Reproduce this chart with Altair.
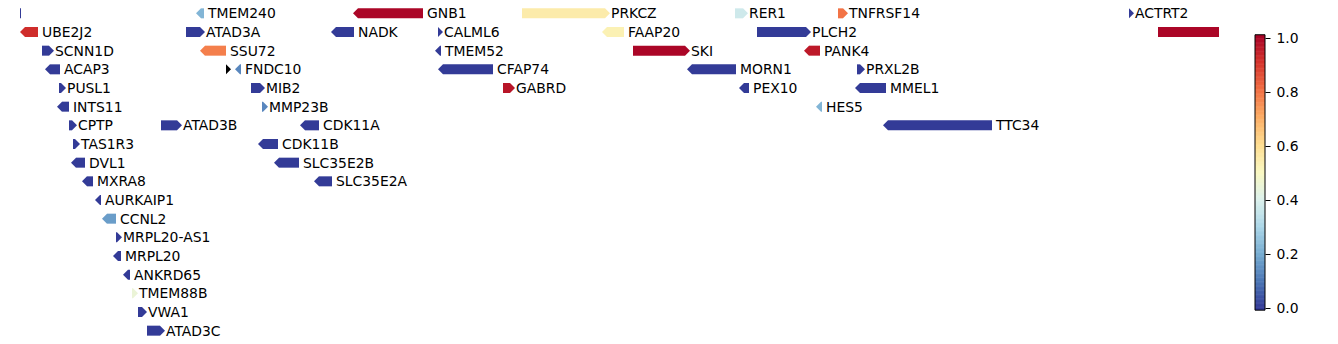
import altair as alt
import pandas as pd

# ---- data (x in track units, 1 unit ~ 1 px) ----
gene_names = ["", "TMEM240", "GNB1", "PRKCZ", "RER1", "TNFRSF14", "ACTRT2",
              "UBE2J2", "ATAD3A", "NADK", "CALML6", "FAAP20", "PLCH2", "",
              "SCNN1D", "SSU72", "TMEM52", "SKI", "PANK4",
              "ACAP3", "", "FNDC10", "CFAP74", "MORN1", "PRXL2B",
              "PUSL1", "MIB2", "GABRD", "PEX10", "MMEL1",
              "INTS11", "MMP23B", "HES5",
              "CPTP", "ATAD3B", "CDK11A", "TTC34",
              "TAS1R3", "CDK11B",
              "DVL1", "SLC35E2B",
              "MXRA8", "SLC35E2A",
              "AURKAIP1", "CCNL2", "MRPL20-AS1", "MRPL20", "ANKRD65",
              "TMEM88B", "VWA1", "ATAD3C"]
gene_rows = [0, 0, 0, 0, 0, 0, 0,
             1, 1, 1, 1, 1, 1, 1,
             2, 2, 2, 2, 2,
             3, 3, 3, 3, 3, 3,
             4, 4, 4, 4, 4,
             5, 5, 5,
             6, 6, 6, 6,
             7, 7,
             8, 8,
             9, 9,
             10, 11, 12, 13, 14,
             15, 16, 17]
gene_starts = [-40, 176, 333, 502, 715, 818, 1109,
               0, 166, 311, 418, 582, 737, 1138,
               22, 180, 415, 613, 784,
               25, 206, 215, 418, 667, 837,
               39, 231, 483, 719, 835,
               37, 242, 796,
               49, 141, 280, 863,
               53, 238,
               51, 254,
               62, 294,
               75, 82, 96, 93, 103,
               112, 118, 127]
gene_ends = [1, 184, 403, 590, 728, 828, 1114,
             18, 185, 334, 423, 604, 791, 1300,
             34, 206, 421, 670, 800,
             40, 211, 221, 473, 716, 845,
             46, 245, 495, 729, 866,
             49, 248, 802,
             57, 162, 299, 972,
             60, 258,
             65, 279,
             73, 312,
             81, 96, 102, 101, 110,
             118, 127, 145]
gene_strands = ["-", "-", "-", "+", "+", "+", "+",
                "-", "+", "-", "+", "-", "+", "+",
                "+", "-", "-", "+", "-",
                "-", "+", "-", "-", "-", "+",
                "+", "+", "+", "-", "-",
                "-", "+", "-",
                "+", "+", "-", "-",
                "+", "-",
                "-", "-",
                "-", "-",
                "-", "-", "+", "-", "-",
                "+", "+", "+"]
gene_values = [0.0, 0.22, 1.0, 0.55, 0.37, 0.8, 0.0,
               0.92, 0.0, 0.0, 0.0, 0.53, 0.0, 1.0,
               0.0, 0.78, 0.0, 1.0, 0.96,
               0.0, None, 0.13, 0.0, 0.0, 0.0,
               0.0, 0.0, 0.97, 0.0, 0.0,
               0.0, 0.13, 0.22,
               0.0, 0.0, 0.0, 0.0,
               0.0, 0.0,
               0.0, 0.0,
               0.0, 0.0,
               0.0, 0.17, 0.0, 0.0, 0.0,
               0.45, 0.0, 0.0]

cbar_ticks = [0.0, 0.2, 0.4, 0.6, 0.8, 1.0]
vmin, vmax = -0.008, 1.012

df = pd.DataFrame({"name": gene_names, "row": gene_rows, "start": gene_starts,
                   "end": gene_ends, "strand": gene_strands, "value": gene_values})

FONT = "DejaVu Sans"
W, H = 1199, 336
HEAD = 5
HALF = 5 / (H / 18.0)

xs = alt.Scale(domain=[0, W], nice=False, zero=False)
ys = alt.Scale(domain=[-0.5, 17.5], reverse=True, nice=False, zero=False)
cs = alt.Scale(scheme="redyellowblue", reverse=True, domain=[vmin, vmax])

base = alt.Chart(df).transform_calculate(
    hx=f"datum.strand == '+' ? max(datum.start, datum.end - {HEAD}) : min(datum.end, datum.start + {HEAD})"
).transform_calculate(
    bx="datum.strand == '+' ? datum.start : datum.hx",
    bx2="datum.strand == '+' ? datum.hx : datum.end",
    lx="datum.end + (datum.strand == '+' ? 1 : 4)",
    yt=f"datum.row - {HALF}",
    yb=f"datum.row + {HALF}",
)

shape_scale = alt.Scale(domain=["+", "-"], range=["M0,-1L1,0L0,1Z", "M0,-1L-1,0L0,1Z"])


def bodies(valid):
    flt = "isValid(datum.value)" if valid else "!isValid(datum.value)"
    color = alt.Color("value:Q", scale=cs, legend=None) if valid else alt.value("black")
    return base.transform_filter(flt).mark_rect(clip=True, strokeWidth=0).encode(
        x=alt.X("bx:Q", scale=xs, axis=None),
        x2="bx2:Q",
        y=alt.Y("yt:Q", scale=ys, axis=None),
        y2="yb:Q",
        color=color,
    )


def heads(valid):
    flt = "isValid(datum.value)" if valid else "!isValid(datum.value)"
    color = alt.Color("value:Q", scale=cs, legend=None) if valid else alt.value("black")
    return base.transform_filter(flt).mark_point(
        clip=True, filled=True, size=100, opacity=1, strokeWidth=0
    ).encode(
        x=alt.X("hx:Q", scale=xs, axis=None),
        y=alt.Y("row:Q", scale=ys, axis=None),
        shape=alt.Shape("strand:N", scale=shape_scale, legend=None),
        color=color,
    )


labels = base.mark_text(
    align="left", baseline="middle", font=FONT, fontSize=13.9, color="black", dy=1
).encode(
    x=alt.X("lx:Q", scale=xs, axis=None),
    y=alt.Y("row:Q", scale=ys, axis=None),
    text="name:N",
)

main = alt.layer(bodies(True), heads(True), bodies(False), heads(False), labels).properties(
    width=W, height=H
)

# ---- colour bar ----
per_unit = 270.0
top_val = 1.0 + (38 - 4) / per_unit
bot_val = top_val - H / per_unit
cby = alt.Scale(domain=[bot_val, top_val], nice=False, zero=False)

grad = alt.Chart(alt.sequence(vmin, vmax, 0.003, as_="value")).transform_calculate(
    v2=f"min(datum.value + 0.005, {vmax})"
).mark_rect(strokeWidth=0).encode(
    x=alt.value(0), x2=alt.value(10),
    y=alt.Y("value:Q", scale=cby, axis=alt.Axis(
        orient="right", values=cbar_ticks, format=".1f", domain=False, grid=False,
        tickSize=5, tickWidth=1, tickColor="black", labelPadding=6,
        labelFontSize=13.9, labelFont=FONT, labelColor="black", title=None)),
    y2="v2:Q",
    color=alt.Color("value:Q", scale=cs, legend=None),
)

border = alt.Chart(pd.DataFrame({"lo": [vmin], "hi": [vmax]})).mark_rect(
    fillOpacity=0, stroke="black", strokeWidth=1
).encode(
    x=alt.value(0), x2=alt.value(10),
    y=alt.Y("lo:Q", scale=cby), y2="hi:Q",
)

cbar = alt.layer(grad, border).properties(width=10, height=H)

chart = alt.hconcat(main, cbar, spacing=36, bounds="flush").properties(
    padding={"left": 20, "top": 4, "right": 0, "bottom": 0}
).configure_view(stroke=None).configure_axis(offset=0)

chart.save("out.html", embed_options={"renderer": "svg", "actions": False})
